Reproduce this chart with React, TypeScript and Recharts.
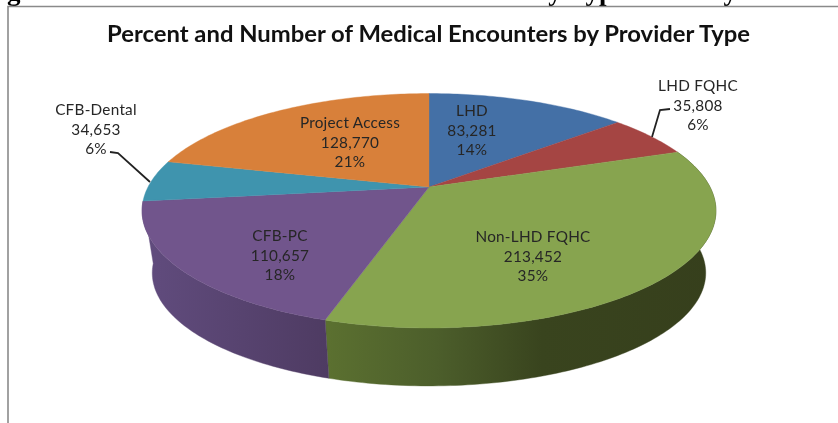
import React from "react";
import { PieChart, Pie } from "recharts";

const categories = ["LHD", "LHD FQHC", "Non-LHD FQHC", "CFB-PC", "CFB-Dental", "Project Access"];
const encounters = [83281, 35808, 213452, 110657, 34653, 128770];
const topColors = ["#4470A6", "#A54543", "#87A44F", "#71558C", "#3F94AE", "#D8803A"];
const sideColors = ["#35577f", "#7c3331", "url(#greenSide)", "url(#purpleSide)", "#2f6f83", "#a2602c"];

const chartTitle = "Percent and Number of Medical Encounters by Provider Type";
const clippedHeading = "Figure 4: Percent of Total Medical Encounters by Type of Safety Net Provider";

// Layout of the data labels (centre x, first-line y), and leader lines, by category index.
const labelX = [472, 698, 533, 280, 96, 350];
const labelY = [110, 85, 236, 235, 109, 122];
const leaders: (string | null)[] = [null, "670,109 660,110 652,137", null, null, "110,152 118,153 150,182", null];

const W = 838;
const H = 423;
const CX = 429;
const TOP_CY = 187;
const TOP_R = 281;
const BOTTOM_CY = 250;
const BOTTOM_R = 271;
const SQUASH = 0.4;
const PERSPECTIVE = 0.2026;

const rows = categories.map((name, i) => ({ name, value: encounters[i], top: topColors[i], side: sideColors[i] }));

const project = (cx: number, cy: number, r: number, deg: number) => {
  const a = (deg * Math.PI) / 180;
  const x = Math.cos(a);
  const z = -Math.sin(a);
  const d = 1 - PERSPECTIVE * z;
  return [cx + (r * x) / d, cy + (r * SQUASH * z) / d];
};

const rim = (cx: number, cy: number, r: number, from: number, to: number) => {
  const n = Math.max(2, Math.ceil(Math.abs(to - from)));
  const pts: number[][] = [];
  for (let i = 0; i <= n; i++) pts.push(project(cx, cy, r, from + ((to - from) * i) / n));
  return pts;
};

const toPath = (pts: number[][]) =>
  "M" + pts.map((p) => p[0].toFixed(2) + " " + p[1].toFixed(2)).join("L") + "Z";

const TopFace = (p: any) => {
  const pts = [[p.cx, p.cy], ...rim(p.cx, p.cy, p.outerRadius, p.startAngle, p.endAngle)];
  return <path d={toPath(pts)} fill={p.payload?.top ?? p.top} stroke={p.payload?.top ?? p.top} strokeWidth={0.4} />;
};

const SideWall = (p: any) => {
  // A slice whose middle faces away from the viewer has no visible wall.
  if (Math.sin((((p.startAngle + p.endAngle) / 2) * Math.PI) / 180) > 0) return <g />;
  const lower = rim(p.cx, p.cy, p.outerRadius, p.startAngle, p.endAngle);
  const upper = rim(CX, TOP_CY, TOP_R, p.startAngle, p.endAngle);
  const fill = p.payload?.side ?? p.side;
  return <path d={toPath([...upper, ...lower.reverse()])} fill={fill} stroke={fill} strokeWidth={0.4} />;
};

const renderLabel = (p: any) => {
  const i = p.index;
  const lines = [categories[i], encounters[i].toLocaleString("en-US"), Math.round(p.percent * 100) + "%"];
  return (
    <g key={categories[i]}>
      {leaders[i] && <polyline points={leaders[i] as string} fill="none" stroke="#222" strokeWidth={1.8} />}
      {lines.map((t, j) => (
        <text
          key={j}
          x={labelX[i]}
          y={labelY[i] + j * 19.6}
          textAnchor="middle"
          dominantBaseline="central"
          fontFamily="Lato, Carlito, sans-serif"
          fontSize={15.3}
          letterSpacing={0.25}
          fill="#262626"
        >
          {t}
        </text>
      ))}
    </g>
  );
};

export default function App() {
  return (
    <div style={{ position: "absolute", left: 0, top: 0, width: W, height: H, background: "#fff", filter: "blur(0.5px)" }}>
      <PieChart width={W} height={H} margin={{ top: 0, right: 0, bottom: 0, left: 0 }}>
        <defs>
          <linearGradient id="greenSide" gradientUnits="userSpaceOnUse" x1="328" y1="0" x2="716" y2="0">
            <stop offset="0" stopColor="#5B7030" />
            <stop offset="0.28" stopColor="#4C5E2B" />
            <stop offset="0.55" stopColor="#39441E" />
            <stop offset="1" stopColor="#363F1C" />
          </linearGradient>
          <linearGradient id="purpleSide" gradientUnits="userSpaceOnUse" x1="143" y1="0" x2="330" y2="0">
            <stop offset="0" stopColor="#614C7E" />
            <stop offset="1" stopColor="#4E3B62" />
          </linearGradient>
        </defs>
        <text x={-17} y={0} fontFamily="Liberation Serif" fontWeight="bold" fontSize={27} wordSpacing={1.5} fill="#000">
          {clippedHeading}
        </text>
        <polyline points={`8,${H} 8,6.5 ${W},6.5`} fill="none" stroke="#8a8a8a" strokeWidth={1.6} />
        <text
          x={428.5}
          y={33}
          textAnchor="middle"
          dominantBaseline="central"
          fontFamily="Lato, Carlito, sans-serif"
          fontWeight="bold"
          fontSize={22}
          textLength={643}
          lengthAdjust="spacingAndGlyphs"
          fill="#111"
        >
          {chartTitle}
        </text>
        <Pie
          data={rows}
          dataKey="value"
          nameKey="name"
          cx={CX}
          cy={BOTTOM_CY}
          outerRadius={BOTTOM_R}
          startAngle={90}
          endAngle={-270}
          stroke="none"
          shape={SideWall}
          label={false}
          labelLine={false}
          isAnimationActive={false}
        />
        <Pie
          data={rows}
          dataKey="value"
          nameKey="name"
          cx={CX}
          cy={TOP_CY}
          outerRadius={TOP_R}
          startAngle={90}
          endAngle={-270}
          stroke="none"
          shape={TopFace}
          label={renderLabel}
          labelLine={false}
          isAnimationActive={false}
        />
      </PieChart>
    </div>
  );
}
